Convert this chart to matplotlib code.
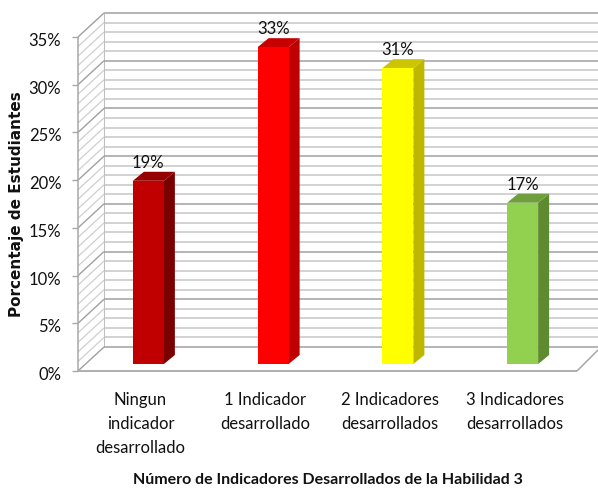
import matplotlib
matplotlib.use("Agg")
import matplotlib.pyplot as plt
from matplotlib.patches import Polygon
from matplotlib.transforms import ScaledTranslation

categories = ["Ningun\nindicador\ndesarrollado", "1 Indicador\ndesarrollado",
              "2 Indicadores\ndesarrollados", "3 Indicadores\ndesarrollados"]
values = [19.2, 33.2, 31.0, 16.9]
labels = ["19%", "33%", "31%", "17%"]
front_colors = ["#C00000", "#FF0000", "#FFFF00", "#92D050"]
side_colors = ["#7A0000", "#BE0000", "#BDB700", "#5F8B2F"]
top_colors = ["#960000", "#C80000", "#CCC600", "#6F9F3C"]
yticks = [0, 5, 10, 15, 20, 25, 30, 35]

narrow = "Lato"

W, H = 598, 489
fig = plt.figure(figsize=(W / 100, H / 100), dpi=100)
L, R, T, B = 78, 577, 38, 372
ax = fig.add_axes([L / W, 1 - B / H, (R - L) / W, (B - T) / H])
ax.set_xlim(-0.5, 3.5)
ax.set_ylim(0, 35)
ux = (R - L) / 4
uy = (B - T) / 35
ddx, ddy = 26 / ux, 24 / uy          # wall depth
bdx, bdy = 11 / ux, 9 / uy           # bar depth
x_end = 3.5 + 21 / ux + 0.2          # wall runs off the figure edge
for s in ax.spines.values():
    s.set_visible(False)
ax.patch.set_visible(False)
kw = dict(clip_on=False, solid_capstyle="butt")

for v in range(0, 36):
    major = v % 5 == 0
    col = "#A0A0A0" if major else "#CFCFCF"
    lw = 1.1 if major else 1.3
    z = 2 if major else 1
    ax.plot([-0.5, -0.5 + ddx], [v, v + ddy], color=col, lw=1.0 if major else 0.9, zorder=z, **kw)
    if v > 0:
        ax.plot([-0.5 + ddx, x_end], [v + ddy, v + ddy], color=col, lw=lw, zorder=z, **kw)
ax.plot([-0.5 + ddx, x_end], [ddy, ddy], color="#A0A0A0", lw=1.1, zorder=2, **kw)
ax.plot([-0.5 + ddx, -0.5 + ddx], [ddy, 35 + ddy], color="#C0C0C0", lw=0.8, zorder=1, **kw)
ax.plot([-0.5, -0.5], [0, 35], color="#A8A8A8", lw=1.1, zorder=3, **kw)
ax.plot([-0.5, 3.5], [0, 0], color="#A8A8A8", lw=1.3, zorder=3, **kw)
ax.plot([3.5, 3.5 + 21 / ux], [0, 21 / uy], color="#A8A8A8", lw=1.1, zorder=3, **kw)

bar_w = 31 / ux
offset_x = 8 / ux
base = 7 / uy
xs = [i + offset_x for i in range(len(values))]
ax.bar(xs, values, width=bar_w, bottom=base, color=front_colors, zorder=6, clip_on=False)
for x, v, sc, tc, lab in zip(xs, values, side_colors, top_colors, labels):
    l, r = x - bar_w / 2, x + bar_w / 2
    t = base + v
    ax.add_patch(Polygon([(r, base), (r + bdx, base + bdy), (r + bdx, t + bdy), (r, t)],
                         closed=True, fc=sc, ec="none", zorder=5, clip_on=False))
    ax.add_patch(Polygon([(l, t), (l + bdx, t + bdy), (r + bdx, t + bdy), (r, t)],
                         closed=True, fc=tc, ec="none", zorder=5, clip_on=False))
    ax.annotate(lab, (x, t + bdy), xytext=(0, 1.5), textcoords="offset points", ha="center",
                va="bottom", fontsize=12, family=narrow, color="#111111", zorder=8)

ax.set_yticks(yticks, [f"{v}%" for v in yticks], fontsize=12, family=narrow, color="#111111")
ax.tick_params(axis="y", length=4, width=1.0, color="#A8A8A8", pad=8)
shift = ScaledTranslation(0, -1.5 / 100, fig.dpi_scale_trans)
for tl in ax.get_yticklabels():
    tl.set_transform(tl.get_transform() + shift)
ax.set_xticks(range(4), categories, fontsize=12, family=narrow, color="#111111", linespacing=1.6)
ax.tick_params(axis="x", length=0, pad=14.5)

fig.text(17 / W, 1 - 204 / H, "Porcentaje de Estudiantes", rotation=90, ha="center", va="center",
         fontsize=11, fontweight="bold", family="DejaVu Sans", color="#111111")
fig.text(328 / W, 1 - 480 / H, "Número de Indicadores Desarrollados de la Habilidad 3", ha="center",
         va="center", fontsize=11.5, fontweight="bold", family=narrow, color="#111111")
fig.savefig("out.png", dpi=100)
